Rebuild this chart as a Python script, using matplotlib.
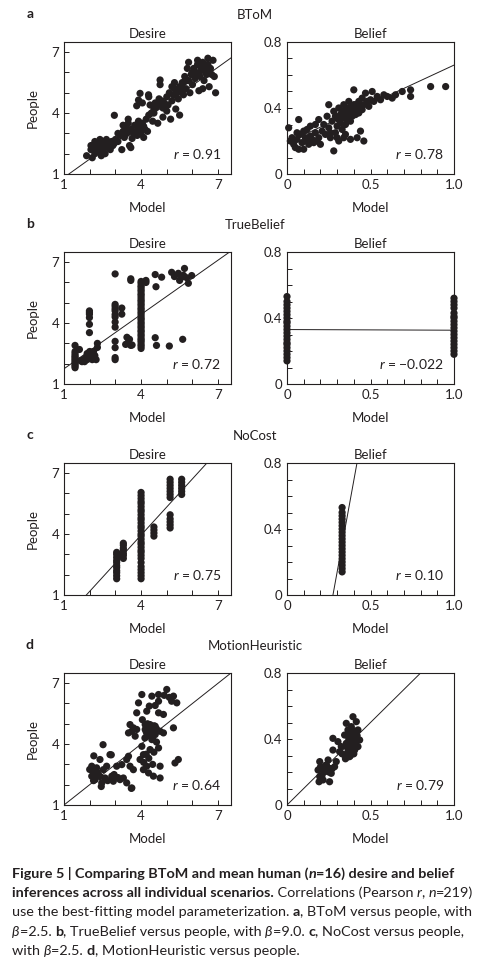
import numpy as np
import matplotlib
matplotlib.use("Agg")
import matplotlib.pyplot as plt
from matplotlib.ticker import MultipleLocator, FixedLocator

plt.rcParams['font.family'] = ['Lato', 'DejaVu Sans']
plt.rcParams['mathtext.fontset'] = 'custom'
plt.rcParams['mathtext.rm'] = 'Lato'
plt.rcParams['mathtext.it'] = 'Lato:italic'

INK = '#231f20'

# -------------------------
# data: (model, people) pairs per scenario
# -------------------------
btom_desire = [
    (1.88, 1.9), (2.05, 2.2), (2.1, 1.8), (2.15, 2.4), (2.2, 2.0), (2.25, 2.3), (2.3, 2.5),
    (2.35, 2.1), (2.4, 2.3), (2.45, 1.9), (2.5, 2.6), (2.5, 2.2), (2.55, 2.4), (2.6, 2.0),
    (2.65, 2.7), (2.7, 2.3), (2.75, 2.5), (2.8, 2.2), (2.85, 2.6), (2.9, 2.4), (2.95, 2.5),
    (3.0, 2.7), (2.2, 2.6), (2.4, 2.7), (2.05, 2.4), (2.96, 3.89),
    (3.1, 2.6), (3.2, 2.9), (3.25, 2.2), (3.3, 3.1), (3.35, 2.8), (3.4, 3.3), (3.45, 3.0),
    (3.5, 3.5), (3.55, 2.4), (3.6, 3.2), (3.6, 2.3), (3.7, 3.0), (3.75, 3.4), (3.8, 3.1),
    (3.85, 2.9), (3.9, 3.6), (3.95, 3.3), (4.0, 3.0), (4.05, 3.5), (4.1, 2.8), (4.15, 3.2),
    (4.2, 3.7), (3.3, 3.4), (3.5, 3.7), (3.1, 3.0), (4.25, 3.1), (3.83, 4.36), (3.9, 4.64),
    (3.96, 4.97), (4.05, 4.5), (4.29, 4.9),
    (4.3, 3.9), (4.35, 4.4), (4.4, 4.0), (4.45, 3.6), (4.5, 4.2), (4.55, 4.5), (4.6, 4.3),
    (4.65, 3.5), (4.7, 4.7), (4.75, 4.4), (4.8, 4.6), (4.85, 3.8), (4.9, 4.5), (4.95, 4.3),
    (5.0, 4.8), (5.05, 4.4), (5.1, 5.0), (5.15, 3.7), (5.2, 4.6), (5.25, 4.9), (5.3, 5.2),
    (5.35, 4.2), (5.4, 5.0), (5.45, 4.7), (5.5, 5.3), (5.5, 3.9), (5.55, 5.1), (4.74, 5.4),
    (4.74, 5.63), (4.3, 4.8), (4.5, 4.0),
    (5.6, 5.5), (5.65, 4.9), (5.7, 5.8), (5.75, 5.2), (5.8, 6.2), (5.85, 5.6), (5.85, 6.5),
    (5.9, 5.0), (5.95, 5.9), (6.0, 5.4), (6.05, 6.2), (6.1, 5.7), (6.15, 6.0), (6.2, 6.4),
    (6.25, 5.1), (6.3, 5.8), (6.35, 6.1), (6.4, 6.5), (6.45, 5.6), (6.5, 6.3), (6.55, 5.9),
    (6.6, 6.7), (6.65, 5.3), (6.7, 6.2), (6.75, 5.9), (6.8, 6.6), (6.85, 5.8), (6.9, 5.0),
    (6.4, 5.2), (6.55, 6.0), (6.2, 6.6), (6.3, 6.3), (5.3, 5.5), (5.6, 5.3),
    (2.3, 2.2), (2.6, 2.35), (3.65, 2.75), (3.9, 3.05), (4.1, 3.35), (4.6, 4.45),
    (4.85, 4.25), (5.0, 4.1), (5.2, 5.3), (5.7, 5.55), (6.0, 6.0), (6.45, 6.1), (6.6, 6.4),
]

btom_belief = [
    (0.01, 0.28), (0.02, 0.2), (0.03, 0.22), (0.04, 0.18), (0.05, 0.16), (0.06, 0.21),
    (0.07, 0.15), (0.07, 0.33), (0.08, 0.24), (0.09, 0.19), (0.1, 0.15), (0.11, 0.22),
    (0.12, 0.27), (0.12, 0.2), (0.13, 0.18), (0.14, 0.23), (0.15, 0.21), (0.16, 0.19),
    (0.17, 0.25), (0.18, 0.2), (0.19, 0.22), (0.2, 0.18), (0.14, 0.29), (0.17, 0.3),
    (0.19, 0.33), (0.1, 0.26), (0.06, 0.25),
    (0.21, 0.26), (0.22, 0.3), (0.23, 0.24), (0.24, 0.35), (0.25, 0.42), (0.25, 0.28),
    (0.26, 0.22), (0.27, 0.32), (0.28, 0.38), (0.28, 0.14), (0.29, 0.25), (0.3, 0.34),
    (0.3, 0.29), (0.31, 0.4), (0.32, 0.36), (0.32, 0.31), (0.33, 0.38), (0.33, 0.27),
    (0.34, 0.34), (0.34, 0.42), (0.35, 0.37), (0.35, 0.3), (0.36, 0.4), (0.36, 0.33),
    (0.37, 0.44), (0.37, 0.36), (0.38, 0.39), (0.38, 0.32), (0.39, 0.41), (0.39, 0.35),
    (0.4, 0.38), (0.4, 0.51), (0.41, 0.42), (0.41, 0.36), (0.42, 0.4), (0.43, 0.44),
    (0.43, 0.37), (0.44, 0.41), (0.45, 0.46), (0.45, 0.39), (0.46, 0.42), (0.47, 0.49),
    (0.48, 0.44), (0.49, 0.41), (0.5, 0.45), (0.3, 0.22), (0.26, 0.25), (0.35, 0.24),
    (0.34, 0.22), (0.38, 0.21), (0.42, 0.22), (0.44, 0.26), (0.46, 0.2), (0.31, 0.2),
    (0.51, 0.5), (0.52, 0.44), (0.54, 0.47), (0.56, 0.45), (0.58, 0.48), (0.6, 0.47),
    (0.63, 0.46), (0.65, 0.48), (0.69, 0.5), (0.74, 0.51), (0.74, 0.47), (0.86, 0.53),
    (0.95, 0.53),
    (0.33, 0.35), (0.35, 0.39), (0.37, 0.34), (0.39, 0.38), (0.41, 0.39), (0.36, 0.37),
    (0.15, 0.2), (0.13, 0.22), (0.29, 0.35), (0.31, 0.33), (0.4, 0.42), (0.42, 0.37),
]

truebelief_desire = [
    (1.43, 1.8), (1.43, 1.88), (1.43, 1.95), (1.43, 2.03), (1.43, 2.1), (1.43, 2.18),
    (1.43, 2.25), (1.43, 2.33), (1.43, 2.4), (1.43, 2.5), (1.43, 2.6), (1.43, 2.9),
    (1.6, 2.7), (1.7, 2.1), (1.75, 2.2), (1.8, 2.1), (1.85, 2.3), (1.9, 2.2), (1.95, 2.4),
    (2.0, 2.3), (2.05, 2.5), (2.1, 2.2), (2.15, 2.6), (2.2, 2.4), (2.25, 2.2), (2.3, 2.8),
    (2.3, 3.0), (1.65, 2.15), (1.9, 2.5), (2.0, 2.6),
    (1.99, 3.53), (1.99, 3.94), (1.99, 4.27), (1.99, 4.44), (1.99, 4.52), (1.99, 4.6),
    (2.99, 2.2), (2.99, 2.3), (2.99, 2.79), (2.99, 3.1), (2.99, 3.8), (2.99, 4.05),
    (2.99, 4.3), (2.99, 4.42), (2.99, 4.6), (2.99, 4.7), (2.99, 4.82), (2.99, 4.92),
    (2.99, 6.42), (3.25, 4.44), (3.25, 4.74), (3.4, 2.95), (3.45, 3.3), (3.5, 3.05),
    (3.55, 3.2), (3.6, 6.1), (3.6, 6.18), (3.6, 2.9), (3.65, 2.92),
    (4.0, 2.75), (4.0, 2.86), (4.0, 2.95), (4.0, 3.07), (4.0, 3.16), (4.0, 3.24),
    (4.0, 3.36), (4.0, 3.45), (4.0, 3.57), (4.0, 3.64), (4.0, 3.76), (4.0, 3.85),
    (4.0, 3.96), (4.0, 4.05), (4.0, 4.17), (4.0, 4.24), (4.0, 4.35), (4.0, 4.46),
    (4.0, 4.55), (4.0, 4.66), (4.0, 4.74), (4.0, 4.86), (4.0, 4.95), (4.0, 5.06),
    (4.0, 5.14), (4.0, 5.25), (4.0, 5.36), (4.0, 5.44), (4.0, 5.56), (4.0, 5.65),
    (4.0, 5.76), (4.0, 5.84), (4.0, 5.96), (4.0, 6.05),
    (4.19, 6.0), (4.19, 6.1), (4.55, 3.28), (4.6, 2.9), (4.55, 6.39), (4.58, 5.79),
    (4.8, 6.26), (5.1, 2.87), (5.62, 3.2),
    (5.19, 6.5), (5.3, 6.29), (5.45, 6.45), (5.58, 6.26), (5.69, 6.69), (5.78, 6.23),
    (5.84, 5.96), (5.97, 6.34), (5.5, 6.1), (5.65, 6.35),
]

truebelief_belief = [
    (0.0, 0.14), (0.0, 0.16), (0.0, 0.18), (0.0, 0.2), (0.0, 0.22), (0.0, 0.24), (0.0, 0.25),
    (0.0, 0.27), (0.0, 0.29), (0.0, 0.31), (0.0, 0.33), (0.0, 0.35), (0.0, 0.37), (0.0, 0.38),
    (0.0, 0.4), (0.0, 0.42), (0.0, 0.44), (0.0, 0.46), (0.0, 0.48), (0.0, 0.5), (0.0, 0.53),
    (1.0, 0.18), (1.0, 0.2), (1.0, 0.22), (1.0, 0.24), (1.0, 0.26), (1.0, 0.28), (1.0, 0.3),
    (1.0, 0.32), (1.0, 0.34), (1.0, 0.36), (1.0, 0.38), (1.0, 0.4), (1.0, 0.41), (1.0, 0.43),
    (1.0, 0.46), (1.0, 0.48), (1.0, 0.5), (1.0, 0.52),
]

nocost_desire = [
    (3.05, 1.8), (3.05, 1.95), (3.05, 2.1), (3.05, 2.2), (3.05, 2.35), (3.05, 2.45),
    (3.05, 2.6), (3.05, 2.7), (3.05, 2.85), (3.05, 3.0), (3.05, 3.1),
    (3.31, 2.8), (3.31, 2.95), (3.31, 3.05), (3.31, 3.2), (3.31, 3.3), (3.31, 3.45),
    (3.31, 3.55),
    (4.0, 1.8), (4.0, 1.95), (4.0, 2.1), (4.0, 2.25), (4.0, 2.4), (4.0, 2.6),
    (4.0, 2.8), (4.0, 2.95), (4.0, 3.1), (4.0, 3.2), (4.0, 3.35), (4.0, 3.5), (4.0, 3.6),
    (4.0, 3.75), (4.0, 3.9), (4.0, 4.0), (4.0, 4.15), (4.0, 4.3), (4.0, 4.4), (4.0, 4.55),
    (4.0, 4.7), (4.0, 4.8), (4.0, 4.95), (4.0, 5.1), (4.0, 5.2), (4.0, 5.35), (4.0, 5.5),
    (4.0, 5.6), (4.0, 5.75), (4.0, 5.9), (4.0, 6.05),
    (4.5, 3.9), (4.5, 4.05), (4.5, 4.2), (4.5, 4.35),
    (5.13, 4.3), (5.13, 4.45), (5.13, 4.6), (5.13, 4.75), (5.13, 4.95),
    (5.13, 5.8), (5.13, 5.95), (5.13, 6.1), (5.13, 6.25), (5.13, 6.4), (5.13, 6.55),
    (5.13, 6.7),
    (5.58, 5.95), (5.58, 6.1), (5.58, 6.25), (5.58, 6.4), (5.58, 6.55), (5.58, 6.7),
]

nocost_belief = [
    (0.33, 0.14), (0.33, 0.16), (0.33, 0.18), (0.33, 0.2), (0.33, 0.22), (0.33, 0.24),
    (0.33, 0.26), (0.33, 0.28), (0.33, 0.3), (0.33, 0.32), (0.33, 0.34), (0.33, 0.36),
    (0.33, 0.38), (0.33, 0.4), (0.33, 0.42), (0.33, 0.44), (0.33, 0.46), (0.33, 0.48),
    (0.33, 0.5), (0.33, 0.53),
]

motion_desire = [
    (2.08, 2.91), (2.08, 2.42), (2.14, 2.66), (2.21, 2.25), (2.27, 2.83), (2.34, 2.5),
    (2.4, 3.24), (2.47, 2.09), (2.53, 2.74), (2.6, 2.33), (2.66, 2.91), (2.79, 3.48),
    (2.86, 2.42), (2.92, 2.17), (3.05, 2.91), (3.18, 2.25), (3.31, 2.33), (3.44, 2.09),
    (3.51, 3.4), (3.57, 2.91), (3.64, 1.84), (3.7, 2.74), (3.44, 3.24), (3.25, 2.99),
    (2.16, 3.42), (2.52, 3.97), (2.84, 3.47), (2.45, 1.91), (3.62, 1.82), (2.3, 2.6),
    (2.2, 2.45), (2.7, 2.2),
    (3.9, 6.03), (4.03, 6.44), (4.42, 6.36), (4.68, 6.44), (5.0, 6.69), (5.19, 6.11),
    (5.26, 6.36), (5.39, 6.03), (5.26, 4.8), (5.45, 3.24), (5.32, 3.07), (4.74, 2.91),
    (4.74, 2.33), (4.48, 2.42), (4.29, 2.58), (4.22, 2.91), (4.09, 3.48), (4.03, 3.89),
    (4.35, 3.73), (4.68, 3.81), (4.16, 4.72), (4.22, 4.39), (4.42, 4.22), (4.55, 4.47),
    (4.74, 4.63), (4.87, 4.55), (4.55, 4.88), (4.35, 4.96), (4.16, 4.96), (3.57, 4.96),
    (3.51, 4.55), (3.64, 4.63), (3.83, 4.72), (3.77, 4.39), (3.83, 5.54), (4.22, 5.62),
    (4.32, 5.87), (4.68, 6.11), (4.68, 5.54), (4.87, 5.46), (3.96, 3.24), (4.09, 2.74),
    (4.2, 4.6), (4.25, 4.8), (4.3, 4.5), (4.4, 4.7), (4.45, 4.3), (4.5, 4.9), (4.2, 3.5),
    (4.5, 3.6), (4.6, 4.1), (4.1, 3.1), (4.3, 3.3), (4.45, 3.0), (4.05, 5.2), (4.25, 5.0),
    (4.55, 5.9),
    (2.0, 2.75), (2.15, 2.2), (2.4, 2.4), (2.95, 2.5), (3.1, 2.35), (4.35, 4.6),
    (4.45, 4.5), (4.15, 4.3), (4.6, 4.75), (5.1, 6.3), (4.9, 6.4), (3.7, 4.8),
]

motion_belief = [
    (0.196, 0.263), (0.186, 0.212), (0.196, 0.172), (0.192, 0.141), (0.216, 0.152),
    (0.226, 0.202), (0.236, 0.242), (0.246, 0.273), (0.255, 0.222), (0.265, 0.192),
    (0.255, 0.141), (0.285, 0.232), (0.295, 0.263), (0.275, 0.333), (0.275, 0.404),
    (0.305, 0.384), (0.325, 0.354), (0.315, 0.323), (0.345, 0.303), (0.365, 0.323),
    (0.375, 0.293), (0.355, 0.374), (0.375, 0.414), (0.395, 0.434), (0.385, 0.475),
    (0.355, 0.495), (0.395, 0.535), (0.415, 0.505), (0.425, 0.455), (0.435, 0.394),
    (0.425, 0.354), (0.405, 0.333), (0.345, 0.424), (0.365, 0.455), (0.38, 0.36),
    (0.39, 0.34), (0.4, 0.31), (0.41, 0.37), (0.37, 0.4), (0.36, 0.29), (0.42, 0.42),
    (0.4, 0.45), (0.21, 0.18), (0.23, 0.24), (0.25, 0.2), (0.2, 0.23), (0.27, 0.22),
    (0.35, 0.28), (0.38, 0.3), (0.33, 0.31), (0.41, 0.38), (0.37, 0.33),
    (0.39, 0.39), (0.36, 0.35), (0.4, 0.41), (0.38, 0.43), (0.42, 0.39), (0.22, 0.21),
]

# fitted lines (slope, intercept) and correlations, [desire, belief]
fits = {
    'a': [(0.906, -0.078), (0.47, 0.19)],
    'b': [(0.892, 0.858), (-0.004, 0.330)],
    'c': [(1.385, -1.59), (5.56, -1.53)],
    'd': [(1.0, 0.0), (1.0, 0.0)],
}
r_values = {'a': ['0.91', '0.78'], 'b': ['0.72', '-0.022'], 'c': ['0.75', '0.10'], 'd': ['0.64', '0.79']}
letters = ['a', 'b', 'c', 'd']
model_names = ['BToM', 'TrueBelief', 'NoCost', 'MotionHeuristic']
desire_data = [btom_desire, truebelief_desire, nocost_desire, motion_desire]
belief_data = [btom_belief, truebelief_belief, nocost_belief, motion_belief]

# -------------------------
# layout
# -------------------------
W, H = 491, 976
fig = plt.figure(figsize=(W / 100, H / 100), dpi=100)
row_tops = [42, 252, 463, 673]
ax_h = 132
fs = 9.5
msize = 27


def style_axis(ax):
    for s in ax.spines.values():
        s.set_linewidth(0.8)
        s.set_color(INK)
    ax.tick_params(which='both', direction='in', colors=INK, width=0.7, labelsize=fs, pad=3.5)
    ax.tick_params(which='both', length=3.5)


for i, let in enumerate(letters):
    top = row_tops[i]
    axd = fig.add_axes([64 / W, 1 - (top + ax_h) / H, 167 / W, ax_h / H])
    axb = fig.add_axes([287 / W, 1 - (top + ax_h) / H, 167 / W, ax_h / H])

    # desire
    x, y = np.array(desire_data[i]).T
    axd.scatter(x, y, s=msize, color=INK, edgecolors='none', clip_on=False, zorder=2)
    m, b = fits[let][0]
    axd.axline((0, b), slope=m, color=INK, lw=0.7, zorder=3)
    axd.set_xlim(1, 7.5)
    axd.set_ylim(1, 7.5)
    axd.xaxis.set_major_locator(FixedLocator([1, 4, 7]))
    axd.yaxis.set_major_locator(FixedLocator([1, 4, 7]))
    axd.xaxis.set_minor_locator(FixedLocator([2, 3, 5, 6]))
    axd.yaxis.set_minor_locator(FixedLocator([2, 3, 5, 6]))
    style_axis(axd)
    axd.set_title('Desire', fontsize=fs, color=INK, pad=3)
    axd.set_xlabel('Model', fontsize=fs, color=INK, labelpad=8)
    axd.set_ylabel('People', fontsize=fs, color=INK, labelpad=9)
    axd.text(0.94, 0.11, '$r$ = ' + r_values[let][0], transform=axd.transAxes, ha='right',
             va='baseline', fontsize=10, color=INK)

    # belief
    x, y = np.array(belief_data[i]).T
    axb.scatter(x, y, s=msize, color=INK, edgecolors='none', clip_on=False, zorder=2)
    m, b = fits[let][1]
    axb.axline((0, b), slope=m, color=INK, lw=0.7, zorder=3)
    axb.set_xlim(0, 1.0)
    axb.set_ylim(0, 0.8)
    axb.xaxis.set_major_locator(FixedLocator([0, 0.5, 1.0]))
    axb.yaxis.set_major_locator(FixedLocator([0, 0.4, 0.8]))
    axb.xaxis.set_minor_locator(MultipleLocator(0.1))
    axb.yaxis.set_minor_locator(MultipleLocator(0.1))
    axb.set_xticklabels(['0', '0.5', '1.0'])
    axb.set_yticklabels(['0', '0.4', '0.8'])
    style_axis(axb)
    axb.set_title('Belief', fontsize=fs, color=INK, pad=3)
    axb.set_xlabel('Model', fontsize=fs, color=INK, labelpad=8)
    r_txt = '$r$ = ' + r_values[let][1].replace('-', '\u2212')
    axb.text(0.94, 0.11, r_txt, transform=axb.transAxes, ha='right', va='baseline',
             fontsize=10, color=INK)

    # panel header
    fig.text(30 / W, 1 - (top - 28) / H, let, fontsize=10, fontweight='bold', color=INK,
             ha='center', va='center')
    fig.text(255 / W, 1 - (top - 27) / H, model_names[i], fontsize=fs, color=INK,
             ha='center', va='center')

# -------------------------
# caption
# -------------------------
B, R, I, BI = ('bold', 'normal'), ('normal', 'normal'), ('normal', 'italic'), ('bold', 'italic')
caption = [
    [('Figure 5 | Comparing BToM and mean human (', B), ('n', BI), ('=16) desire and belief', B)],
    [('inferences across all individual scenarios.', B), (' Correlations (Pearson ', R), ('r', I),
     (', ', R), ('n', I), ('=219)', R)],
    [('use the best-fitting model parameterization. ', R), ('a', B), (', BToM versus people, with', R)],
    [('\u03b2', I), ('=2.5. ', R), ('b', B), (', TrueBelief versus people, with ', R), ('\u03b2', I),
     ('=9.0. ', R), ('c', B), (', NoCost versus people,', R)],
    [('with ', R), ('\u03b2', I), ('=2.5. ', R), ('d', B), (', MotionHeuristic versus people.', R)],
]
baselines = [878, 897, 916, 936, 955]
renderer = fig.canvas.get_renderer()
for line, yb in zip(caption, baselines):
    xp = 12
    for txt, (wt, st) in line:
        t = fig.text(xp / W, 1 - yb / H, txt, fontsize=10.4, fontweight=wt, fontstyle=st,
                     color=INK, ha='left', va='baseline')
        xp += t.get_window_extent(renderer=renderer).width

fig.savefig('out.png', dpi=100)
